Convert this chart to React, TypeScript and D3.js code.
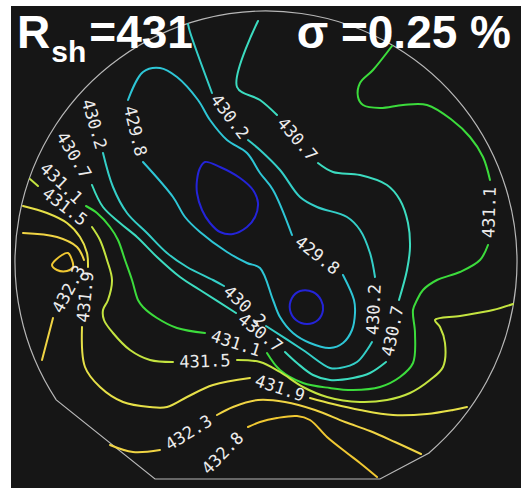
import React from 'react';
import * as d3 from 'd3';

type Pt = [number, number];

// Wafer coordinates (units; wafer radius = 251, y up). Contour polylines.
const LEVELS = [429.4, 429.8, 430.2, 430.7, 431.1, 431.5, 431.9, 432.3, 432.8];
const LEVEL_COLORS = ['#2424d8', '#2ec6d6', '#34cfc8', '#3cdcc0', '#3cdc3c', '#c4e440', '#e6e048', '#f0d444', '#f0c832'];

const c4294a: Pt[] = [[-61,100],[-46,95],[-26,84],[-13,72],[-8,59],[-11,45],[-19,35],[-33,28],[-46,30],[-56,39],[-64,52],[-69,69],[-69,82],[-66,94]];
const c4294b: Pt[] = [[34,-29],[47,-30],[55,-38],[57,-48],[52,-58],[41,-62],[30,-58],[24,-48],[26,-36]];
const c4298: Pt[] = [[-138,162],[-123,100],[-93,65],[-81,45],[-66,30],[-39,10],[-19,-1],[-6,-6],[7,-38],[14,-55],[27,-71],[44,-81],[64,-86],[77,-81],[86,-68],[89,-51],[88,-38],[77,-13],[26,27],[7,72],[-6,89],[-19,109],[-39,122],[-56,142],[-68,162],[-89,185],[-106,194],[-123,190]];
const c4302: Pt[] = [[-180,167],[-163,109],[-153,75],[-139,49],[-119,29],[-99,9],[-79,-5],[-53,-18],[-42,-24],[0,-64],[37,-88],[64,-106],[74,-106],[91,-100],[101,-88],[106,-80],[109,-15],[104,9],[94,32],[81,45],[51,55],[34,65],[14,92],[-6,112],[-18,122],[-54,169],[-76,230],[-78,238]];
const c4307: Pt[] = [[-8,241],[-29,175],[-6,162],[11,147],[52,99],[67,90],[94,87],[121,77],[134,62],[142,39],[144,15],[141,-8],[133,-38],[120,-100],[104,-111],[87,-116],[64,-118],[47,-113],[31,-101],[19,-90],[-30,-51],[-66,-28],[-86,-15],[-109,5],[-129,25],[-146,39],[-163,55],[-174,77],[-210,137]];
const c4311: Pt[] = [[-229,102],[-180,56],[-169,49],[-156,35],[-148,22],[-141,2],[-134,-18],[-128,-38],[-123,-45],[-109,-56],[-89,-66],[-61,-71],[1,-91],[14,-108],[37,-121],[64,-126],[87,-128],[114,-125],[134,-115],[147,-101],[149,-71],[147,-48],[151,-38],[157,-28],[171,-18],[194,-10],[214,2],[222,17],[224,82],[217,105],[204,125],[186,142],[161,157],[137,157],[114,154],[97,157],[92,165],[94,179],[107,192],[126,216]];
const c4315: Pt[] = [[-236,83],[-228,76],[-174,35],[-166,22],[-159,2],[-154,-18],[-158,-38],[-163,-48],[-162,-58],[-153,-71],[-136,-88],[-116,-98],[-93,-100],[-29,-98],[-6,-100],[14,-110],[37,-125],[61,-135],[94,-140],[121,-138],[144,-131],[164,-118],[177,-105],[179,-81],[174,-65],[169,-58],[194,-54],[227,-48],[247,-42]];
const c4319: Pt[] = [[-243,56],[-219,49],[-199,39],[-186,25],[-179,9],[-178,-5],[-184,-65],[-181,-105],[-166,-125],[-143,-140],[-116,-145],[-99,-145],[-79,-135],[-53,-123],[-16,-116],[44,-136],[67,-142],[94,-148],[127,-153],[161,-152],[187,-148],[201,-145]];
const c4323a: Pt[] = [[-243,29],[-209,25],[-189,15],[-182,2],[-213,-56],[-224,-98]];
const c4323b: Pt[] = [[-156,-183],[-133,-190],[-106,-188],[-49,-153],[-33,-145],[-8,-138],[19,-140],[49,-148],[79,-160],[104,-169],[129,-180],[155,-192]];
const c4328a: Pt[] = [[-214,-3],[-204,7],[-198,9],[-194,2],[-193,-5],[-199,-9],[-209,-8]];
const c4328b: Pt[] = [[-69,-217],[-18,-165],[-6,-160],[11,-156],[31,-154],[44,-158],[61,-175],[81,-191],[94,-201],[111,-215]];

// each contour: level index, points, indices of segments that are label gaps, closed flag
const CONTOURS: { li: number; pts: Pt[]; gaps: number[]; closed: boolean }[] = [
  { li: 0, pts: c4294a, gaps: [], closed: true },
  { li: 0, pts: c4294b, gaps: [], closed: true },
  { li: 1, pts: c4298, gaps: [0, 17], closed: true },
  { li: 2, pts: c4302, gaps: [0, 8, 15, 24], closed: false },
  { li: 3, pts: c4307, gaps: [3, 12, 19, 27], closed: false },
  { li: 4, pts: c4311, gaps: [0, 11, 27], closed: false },
  { li: 5, pts: c4315, gaps: [1, 12], closed: false },
  { li: 6, pts: c4319, gaps: [5, 14], closed: false },
  { li: 7, pts: c4323a, gaps: [3], closed: false },
  { li: 7, pts: c4323b, gaps: [2], closed: false },
  { li: 8, pts: c4328a, gaps: [], closed: true },
  { li: 8, pts: c4328b, gaps: [0], closed: false },
];

// wafer outline: circle radius, flat ends and chamfer points on the circle
const WAFER_R = 251;
const FLAT: Pt[] = [[-111, -217], [114, -217]];
const CHAMFER: Pt[] = [[-210, -138], [163, -191]];
const RSH = '431';
const SIGMA = '0.25';

function runs(pts: Pt[], gaps: number[], closed: boolean): Pt[][] {
  const n = pts.length;
  const edges = closed ? n : n - 1;
  const start = closed && gaps.length ? (gaps[0] + 1) % n : 0;
  const out: Pt[][] = [];
  let cur: Pt[] = [pts[start]];
  for (let k = 0; k < edges; k++) {
    const i = (start + k) % n;
    const j = (i + 1) % n;
    if (gaps.includes(i)) {
      if (cur.length > 1) out.push(cur);
      cur = [pts[j]];
    } else cur.push(pts[j]);
  }
  if (cur.length > 1) out.push(cur);
  return out;
}

export default function App() {
  const W = 521, H = 488;
  const cx = 266, cy = 262;
  const x = d3.scaleLinear().domain([-WAFER_R, WAFER_R]).range([cx - WAFER_R, cx + WAFER_R]);
  const y = d3.scaleLinear().domain([-WAFER_R, WAFER_R]).range([cy + WAFER_R, cy - WAFER_R]);
  const lineOpen = d3.line<Pt>().x(d => x(d[0])).y(d => y(d[1])).curve(d3.curveCatmullRom.alpha(0.5));
  const lineClosed = d3.line<Pt>().x(d => x(d[0])).y(d => y(d[1])).curve(d3.curveCatmullRomClosed.alpha(0.5));

  // wafer outline with flat and chamfers
  const r = x(WAFER_R) - x(0);
  const angOf = (q: Pt) => Math.atan2(y(q[1]) - cy, x(q[0]) - cx);
  const p = d3.path();
  p.moveTo(x(FLAT[0][0]), y(FLAT[0][1]));
  p.lineTo(x(FLAT[1][0]), y(FLAT[1][1]));
  p.lineTo(x(CHAMFER[1][0]), y(CHAMFER[1][1]));
  p.arc(cx, cy, r, angOf(CHAMFER[1]), angOf(CHAMFER[0]), true);
  p.closePath();

  const paths: { d: string; color: string }[] = [];
  const labels: { x: number; y: number; ang: number; text: string }[] = [];
  CONTOURS.forEach(c => {
    const color = LEVEL_COLORS[c.li];
    if (c.closed && c.gaps.length === 0) {
      paths.push({ d: lineClosed(c.pts) || '', color });
    } else {
      runs(c.pts, c.gaps, c.closed).forEach(rn => paths.push({ d: lineOpen(rn) || '', color }));
    }
    c.gaps.forEach(i => {
      const p0 = c.pts[i], p1 = c.pts[(i + 1) % c.pts.length];
      const x0 = x(p0[0]), y0 = y(p0[1]), x1 = x(p1[0]), y1 = y(p1[1]);
      let ang = (Math.atan2(y1 - y0, x1 - x0) * 180) / Math.PI;
      if (ang > 90) ang -= 180;
      if (ang <= -90) ang += 180;
      labels.push({ x: (x0 + x1) / 2, y: (y0 + y1) / 2, ang, text: LEVELS[c.li].toFixed(1) });
    });
  });

  return (
    <svg width={W} height={H} style={{ position: 'absolute', left: 0, top: 0, background: '#fff' }}>
      <rect x={11} y={6} width={W - 11} height={H - 6} fill="#161616" />
      <path d={p.toString()} fill="none" stroke="#b8b8b8" strokeWidth={1.2} />
      {paths.map((pp, i) => (
        <path key={i} d={pp.d} fill="none" stroke={pp.color} strokeWidth={2} strokeLinejoin="round" strokeLinecap="round" />
      ))}
      {labels.map((l, i) => (
        <text key={i} x={l.x} y={l.y} transform={`rotate(${l.ang},${l.x},${l.y})`} textAnchor="middle" dominantBaseline="central"
          fontFamily="DejaVu Sans Mono" fontSize={17} fill="#ececec">{l.text}</text>
      ))}
      <text x={17} y={48} fontFamily="Liberation Sans, Arial, sans-serif" fontWeight="bold" fontSize={46} fill="#fff">
        R<tspan fontSize={30} dx={1} dy={14}>sh</tspan><tspan dx={3} dy={-14}>={RSH}</tspan>
      </text>
      <text x={511} y={48} textAnchor="end" fontFamily="Liberation Sans, Arial, sans-serif" fontWeight="bold" fontSize={46} fill="#fff">
        σ ={SIGMA} %
      </text>
    </svg>
  );
}
